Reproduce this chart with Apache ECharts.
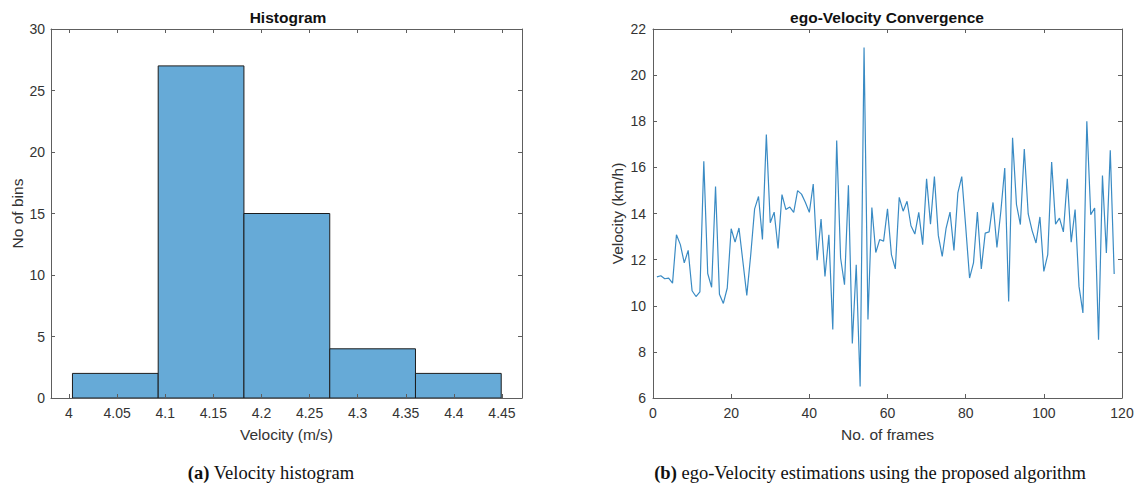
<!DOCTYPE html>
<html>
<head>
<meta charset="utf-8">
<title>Velocity histogram and ego-Velocity convergence</title>
<script src="https://cdn.jsdelivr.net/npm/echarts@6/dist/echarts.min.js"></script>
<style>
  html, body { margin: 0; padding: 0; background: #ffffff; }
  #chart { width: 1142px; height: 488px; }
</style>
</head>
<body>
<div id="chart"></div>
<script>
// Histogram bins (m/s) and counts per bin
const binEdges = [4.0036, 4.0927, 4.1818, 4.2710, 4.3601, 4.4492];
const binCounts = [2, 27, 15, 4, 2];
const velocityTicks = [4, 4.05, 4.1, 4.15, 4.2, 4.25, 4.3, 4.35, 4.4, 4.45];

// ego-Velocity estimate (km/h) per frame, frames 1..118
const egoVelocity = [
  11.25, 11.30, 11.17, 11.20, 10.98, 13.08, 12.65, 11.86, 12.40, 10.65,
  10.40, 10.60, 16.26, 11.40, 10.80, 15.17, 10.50, 10.10, 10.77, 13.34,
  12.76, 13.37, 11.92, 10.45, 12.20, 14.20, 14.74, 12.87, 17.42, 13.60,
  14.06, 12.48, 14.82, 14.17, 14.28, 14.05, 14.99, 14.84, 14.48, 14.05,
  15.28, 11.97, 13.76, 11.27, 13.08, 8.97, 17.16, 12.07, 10.91, 15.22,
  8.36, 11.78, 6.50, 21.20, 9.40, 14.26, 12.31, 12.87, 12.80, 14.20,
  12.22, 11.60, 14.70, 14.10, 14.53, 13.47, 13.11, 14.05, 12.65, 15.50,
  13.54, 15.60, 13.05, 12.14, 13.37, 14.06, 12.40, 14.89, 15.60, 13.45,
  11.20, 11.86, 14.06, 11.60, 13.15, 13.20, 14.48, 12.53, 14.10, 15.97,
  10.19, 17.28, 14.39, 13.52, 16.80, 13.98, 13.26, 12.72, 13.85, 11.49,
  12.22, 16.23, 13.54, 13.80, 13.20, 15.50, 12.76, 14.17, 10.84, 9.69,
  18.00, 13.95, 14.24, 8.53, 15.65, 12.29, 16.74, 11.38
];
const frameNo = egoVelocity.map((_, i) => i + 1);

const sans = "'Liberation Sans', Arial, Helvetica, sans-serif";
const serif = "'Liberation Serif', 'Times New Roman', serif";
const axisColor = '#5e5e5e';
const labelColor = '#333333';

function frameAxis(opts) {
  return Object.assign({
    type: 'value',
    z: 5,
    axisLine: { show: true, onZero: false, lineStyle: { color: axisColor, width: 1 } },
    axisTick: { show: true, inside: true, length: 4, lineStyle: { color: axisColor, width: 1 } },
    axisLabel: { show: false },
    splitLine: { show: false }
  }, opts);
}
function labelled(opts, margin) {
  const a = frameAxis(opts);
  a.axisLabel = {
    show: true, margin: margin, color: labelColor, fontFamily: sans, fontSize: 14,
    showMinLabel: true, showMaxLabel: true
  };
  a.nameTextStyle = { color: labelColor, fontFamily: sans, fontSize: 15.5 };
  return a;
}

const fmtVel = v => String(+v.toFixed(2));

const histX = labelled({
  gridIndex: 0, position: 'bottom', min: 3.9813, max: 4.4708,
  name: 'Velocity (m/s)', nameLocation: 'middle', nameGap: 28
}, 8);
histX.axisTick.customValues = velocityTicks;
histX.axisLabel.customValues = velocityTicks;
histX.axisLabel.formatter = fmtVel;

const histXTop = frameAxis({ gridIndex: 0, position: 'top', min: 3.9813, max: 4.4708 });
histXTop.axisTick.customValues = velocityTicks;

const histY = labelled({
  gridIndex: 0, position: 'left', min: 0, max: 30, interval: 5,
  name: 'No of bins', nameLocation: 'middle', nameGap: 26, nameRotate: 90
}, 6);
const histYRight = frameAxis({ gridIndex: 0, position: 'right', min: 0, max: 30, interval: 5 });

const lineX = labelled({
  gridIndex: 1, position: 'bottom', min: 0, max: 120, interval: 20,
  name: 'No. of frames', nameLocation: 'middle', nameGap: 28
}, 8);
const lineXTop = frameAxis({ gridIndex: 1, position: 'top', min: 0, max: 120, interval: 20 });
const lineY = labelled({
  gridIndex: 1, position: 'left', min: 6, max: 22, interval: 2,
  name: 'Velocity (km/h)', nameLocation: 'middle', nameGap: 28, nameRotate: 90
}, 7);
const lineYRight = frameAxis({ gridIndex: 1, position: 'right', min: 6, max: 22, interval: 2 });

const histData = binCounts.map((c, i) => [binEdges[i], binEdges[i + 1], c]);
const lineData = frameNo.map((f, i) => [f, egoVelocity[i]]);

const chart = echarts.init(document.getElementById('chart'), null, { renderer: 'svg' });
chart.setOption({
  animation: false,
  backgroundColor: '#ffffff',
  grid: [
    { left: 51, top: 29, width: 471, height: 369, containLabel: false, outerBoundsMode: 'none' },
    { left: 653, top: 29, width: 469, height: 369, containLabel: false, outerBoundsMode: 'none' }
  ],
  xAxis: [histX, histXTop, lineX, lineXTop],
  yAxis: [histY, histYRight, lineY, lineYRight],
  series: [
    {
      type: 'custom',
      xAxisIndex: 0, yAxisIndex: 0,
      z: 2,
      encode: { x: [0, 1], y: 2 },
      data: histData,
      renderItem(params, api) {
        const topLeft = api.coord([api.value(0), api.value(2)]);
        const bottomRight = api.coord([api.value(1), 0]);
        return {
          type: 'rect',
          shape: {
            x: topLeft[0], y: topLeft[1],
            width: bottomRight[0] - topLeft[0],
            height: bottomRight[1] - topLeft[1]
          },
          style: { fill: '#66aad7', stroke: '#1c1c1c', lineWidth: 1 }
        };
      }
    },
    {
      type: 'line',
      xAxisIndex: 2, yAxisIndex: 2,
      data: lineData,
      showSymbol: false,
      symbol: 'none',
      lineStyle: { color: '#3a8bc4', width: 1.2 },
      z: 2
    }
  ],
  graphic: [
    {
      type: 'text', x: 288, y: 17,
      style: { text: 'Histogram', fill: '#111', font: "bold 15.5px " + sans, textAlign: 'center', textVerticalAlign: 'middle' }
    },
    {
      type: 'text', x: 887, y: 17,
      style: { text: 'ego-Velocity Convergence', fill: '#111', font: "bold 15.5px " + sans, textAlign: 'center', textVerticalAlign: 'middle' }
    },
    {
      type: 'text', x: 271, y: 473,
      style: {
        text: '{b|(a)} Velocity histogram', fill: '#111', fontFamily: serif, fontSize: 18.5,
        textAlign: 'center', textVerticalAlign: 'middle',
        rich: { b: { fontWeight: 'bold', fontFamily: serif, fontSize: 18.5, fill: '#111' } }
      }
    },
    {
      type: 'text', x: 870, y: 473,
      style: {
        text: '{b|(b)} ego-Velocity estimations using the proposed algorithm', fill: '#111', fontFamily: serif, fontSize: 18.5,
        textAlign: 'center', textVerticalAlign: 'middle',
        rich: { b: { fontWeight: 'bold', fontFamily: serif, fontSize: 18.5, fill: '#111' } }
      }
    }
  ]
});
</script>
</body>
</html>
